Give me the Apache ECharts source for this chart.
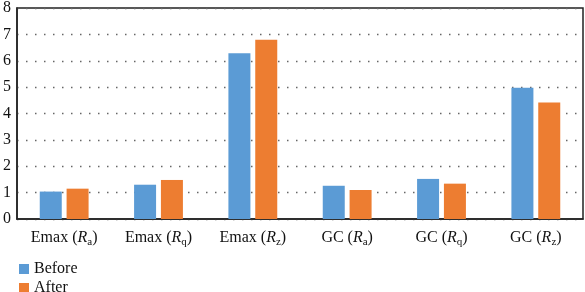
<!DOCTYPE html>
<html>
<head>
<meta charset="utf-8">
<script src="https://cdn.jsdelivr.net/npm/echarts@6/dist/echarts.min.js"></script>
<style>
  html, body { margin: 0; padding: 0; background: #fff; }
  #chart { width: 585px; height: 292px; }
</style>
</head>
<body>
<div id="chart"></div>
<script>
// categories: method name + roughness parameter subscript
const methods = ['Emax', 'Emax', 'Emax', 'GC', 'GC', 'GC'];
const params = ['a', 'q', 'z', 'a', 'q', 'z'];
const categories = methods.map((m, i) => m + ' (R' + params[i] + ')');

const before = [1.04, 1.30, 6.28, 1.26, 1.52, 4.98];
const after = [1.15, 1.48, 6.80, 1.10, 1.34, 4.42];
const yTicks = [0, 1, 2, 3, 4, 5, 6, 7, 8];

const serif = '"Liberation Serif", "DejaVu Serif", serif';

const chart = echarts.init(document.getElementById('chart'));

function legendAt(name, top) {
    return {
        left: 14, top: top,
        itemWidth: 10, itemHeight: 10,
        icon: 'rect',
        textStyle: { fontFamily: serif, fontSize: 16, color: '#111' },
        data: [name]
    };
}

const option = {
    animation: false,
    textStyle: { fontFamily: serif },
    grid: {
        left: 16, right: 2, top: 4, bottom: 73,
        show: true, borderColor: '#222', borderWidth: 1.5
    },
    legend: [legendAt('Before', 256), legendAt('After', 275)],
    xAxis: {
        type: 'category',
        data: categories,
        axisLine: { lineStyle: { color: '#222', width: 1.5 } },
        axisTick: { show: false },
        axisLabel: {
            margin: 9,
            interval: 0,
            formatter: function (v, i) {
                return '{n|' + methods[i] + ' (}{r|R}{s|' + params[i] + '}{n|)}';
            },
            rich: {
                n: { fontFamily: serif, fontSize: 16, color: '#111', lineHeight: 20 },
                r: { fontFamily: serif, fontSize: 16, color: '#111', fontStyle: 'italic', lineHeight: 20 },
                s: { fontFamily: serif, fontSize: 11, color: '#111', lineHeight: 20, padding: [9, 0, 0, 0] }
            }
        }
    },
    yAxis: {
        type: 'value',
        min: 0, max: 8, interval: 1,
        axisLine: { show: true, lineStyle: { color: '#222', width: 1.5 } },
        axisTick: { show: false },
        axisLabel: {
            margin: 6,
            fontFamily: serif, fontSize: 16, color: '#111',
            formatter: v => yTicks.includes(v) ? String(v) : ''
        },
        splitLine: { lineStyle: { color: '#666', type: [1.5, 7.5], width: 1.4 } }
    },
    series: [
        {
            name: 'Before', type: 'bar', data: before,
            barWidth: 22, barGap: '22%',
            itemStyle: { color: '#5B9BD5' }
        },
        {
            name: 'After', type: 'bar', data: after,
            barWidth: 22,
            itemStyle: { color: '#ED7D31' }
        }
    ]
};

chart.setOption(option);
</script>
</body>
</html>
